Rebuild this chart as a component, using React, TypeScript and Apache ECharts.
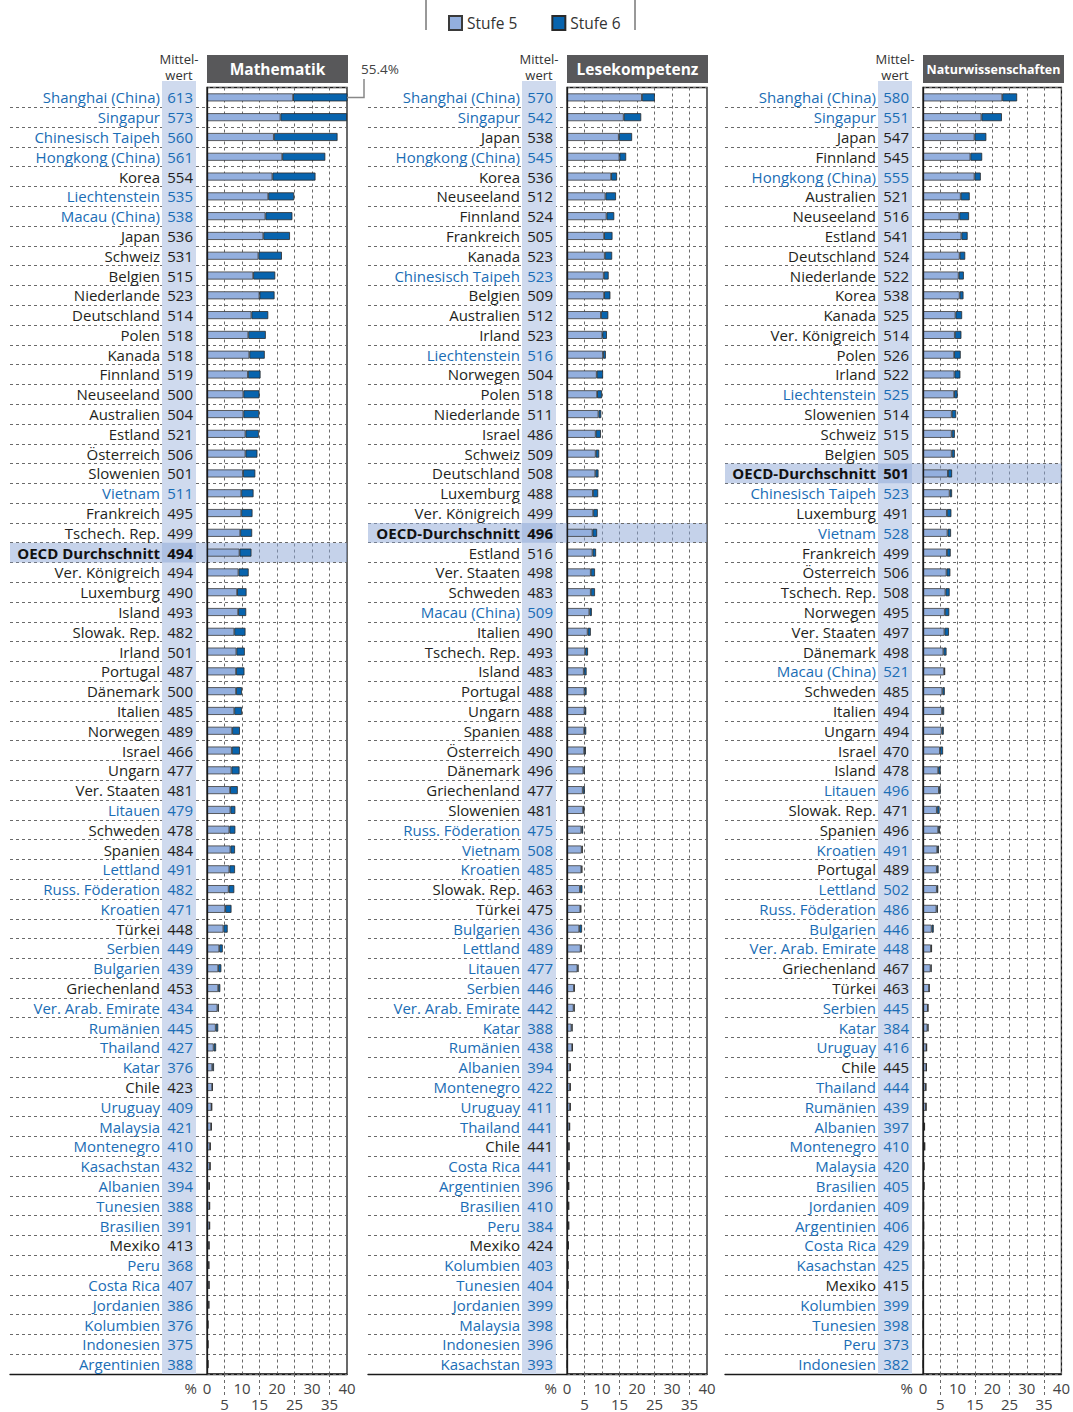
import React, { useEffect, useRef } from 'react';
import * as echarts from 'echarts';

// ---------------- DATA ----------------
const MATH_NAMES = ['Shanghai (China)', 'Singapur', 'Chinesisch Taipeh', 'Hongkong (China)', 'Korea', 'Liechtenstein', 'Macau (China)', 'Japan', 'Schweiz', 'Belgien', 'Niederlande', 'Deutschland', 'Polen', 'Kanada', 'Finnland', 'Neuseeland', 'Australien', 'Estland', 'Österreich', 'Slowenien', 'Vietnam', 'Frankreich', 'Tschech. Rep.', 'OECD Durchschnitt', 'Ver. Königreich', 'Luxemburg', 'Island', 'Slowak. Rep.', 'Irland', 'Portugal', 'Dänemark', 'Italien', 'Norwegen', 'Israel', 'Ungarn', 'Ver. Staaten', 'Litauen', 'Schweden', 'Spanien', 'Lettland', 'Russ. Föderation', 'Kroatien', 'Türkei', 'Serbien', 'Bulgarien', 'Griechenland', 'Ver. Arab. Emirate', 'Rumänien', 'Thailand', 'Katar', 'Chile', 'Uruguay', 'Malaysia', 'Montenegro', 'Kasachstan', 'Albanien', 'Tunesien', 'Brasilien', 'Mexiko', 'Peru', 'Costa Rica', 'Jordanien', 'Kolumbien', 'Indonesien', 'Argentinien'];
const MATH_MEAN = [613, 573, 560, 561, 554, 535, 538, 536, 531, 515, 523, 514, 518, 518, 519, 500, 504, 521, 506, 501, 511, 495, 499, 494, 494, 490, 493, 482, 501, 487, 500, 485, 489, 466, 477, 481, 479, 478, 484, 491, 482, 471, 448, 449, 439, 453, 434, 445, 427, 376, 423, 409, 421, 410, 432, 394, 388, 391, 413, 368, 407, 386, 376, 375, 388];
const MATH_S5 = [24.6, 21.0, 19.1, 21.5, 18.7, 17.5, 16.7, 16.1, 14.7, 13.2, 15.0, 12.7, 11.8, 12.1, 11.7, 10.4, 10.4, 11.0, 11.0, 10.3, 9.8, 9.8, 9.5, 9.3, 9.0, 8.6, 8.9, 7.8, 8.4, 8.3, 8.3, 7.8, 7.2, 7.1, 7.0, 6.6, 6.7, 6.4, 6.7, 6.4, 6.2, 5.2, 4.7, 3.5, 3.2, 3.2, 3.0, 2.5, 1.9, 1.5, 1.5, 1.3, 1.2, 0.9, 0.9, 0.6, 0.7, 0.7, 0.6, 0.5, 0.6, 0.5, 0.3, 0.3, 0.3];
const MATH_S6 = [30.8, 19.0, 18.2, 12.3, 12.3, 7.4, 7.7, 7.6, 6.7, 6.3, 4.3, 4.8, 5.0, 4.4, 3.6, 4.6, 4.5, 3.8, 3.4, 3.5, 3.5, 3.2, 3.4, 3.4, 2.9, 2.7, 2.3, 3.2, 2.4, 2.4, 1.7, 2.2, 2.2, 2.3, 2.3, 2.2, 1.4, 1.7, 1.3, 1.6, 1.6, 1.8, 1.2, 1.0, 0.9, 0.6, 0.4, 0.7, 0.7, 0.5, 0.1, 0.1, 0.1, 0.1, 0.0, 0.2, 0.1, 0.1, 0.0, 0.1, 0.0, 0.1, 0.0, 0.0, 0.0];

const READ_NAMES = ['Shanghai (China)', 'Singapur', 'Japan', 'Hongkong (China)', 'Korea', 'Neuseeland', 'Finnland', 'Frankreich', 'Kanada', 'Chinesisch Taipeh', 'Belgien', 'Australien', 'Irland', 'Liechtenstein', 'Norwegen', 'Polen', 'Niederlande', 'Israel', 'Schweiz', 'Deutschland', 'Luxemburg', 'Ver. Königreich', 'OECD-Durchschnitt', 'Estland', 'Ver. Staaten', 'Schweden', 'Macau (China)', 'Italien', 'Tschech. Rep.', 'Island', 'Portugal', 'Ungarn', 'Spanien', 'Österreich', 'Dänemark', 'Griechenland', 'Slowenien', 'Russ. Föderation', 'Vietnam', 'Kroatien', 'Slowak. Rep.', 'Türkei', 'Bulgarien', 'Lettland', 'Litauen', 'Serbien', 'Ver. Arab. Emirate', 'Katar', 'Rumänien', 'Albanien', 'Montenegro', 'Uruguay', 'Thailand', 'Chile', 'Costa Rica', 'Argentinien', 'Brasilien', 'Peru', 'Mexiko', 'Kolumbien', 'Tunesien', 'Jordanien', 'Malaysia', 'Indonesien', 'Kasachstan'];
const READ_MEAN = [570, 542, 538, 545, 536, 512, 524, 505, 523, 523, 509, 512, 523, 516, 504, 518, 511, 486, 509, 508, 488, 499, 496, 516, 498, 483, 509, 490, 493, 483, 488, 488, 488, 490, 496, 477, 481, 475, 508, 485, 463, 475, 436, 489, 477, 446, 442, 388, 438, 394, 422, 411, 441, 441, 441, 396, 410, 384, 424, 403, 404, 399, 398, 396, 393];
const READ_S5 = [21.4, 16.2, 14.8, 15.0, 12.6, 11.0, 11.3, 10.6, 10.8, 10.5, 10.6, 9.7, 10.1, 10.3, 8.5, 8.6, 9.0, 8.2, 8.2, 8.1, 7.4, 7.5, 7.3, 7.3, 6.8, 6.8, 6.4, 5.9, 5.2, 4.8, 5.0, 5.0, 4.9, 4.9, 4.7, 4.5, 4.6, 4.1, 4.2, 4.1, 3.7, 3.8, 3.5, 3.9, 3.0, 2.0, 1.9, 1.3, 1.5, 0.9, 0.9, 0.9, 0.7, 0.6, 0.6, 0.5, 0.5, 0.5, 0.4, 0.3, 0.3, 0.1, 0.1, 0.1, 0.1];
const READ_S6 = [3.7, 5.0, 3.8, 1.9, 1.7, 3.0, 2.2, 2.4, 2.1, 1.4, 1.8, 2.1, 1.3, 0.8, 1.8, 1.4, 0.8, 1.5, 1.0, 0.9, 1.5, 1.3, 1.3, 1.0, 1.2, 1.2, 0.7, 0.9, 0.8, 0.8, 0.6, 0.5, 0.6, 0.5, 0.4, 0.6, 0.4, 0.5, 0.3, 0.3, 0.7, 0.3, 0.8, 0.3, 0.3, 0.2, 0.3, 0.3, 0.1, 0.1, 0.1, 0.1, 0.1, 0.0, 0.0, 0.0, 0.0, 0.0, 0.0, 0.0, 0.0, 0.0, 0.0, 0.0, 0.0];

const SCI_NAMES = ['Shanghai (China)', 'Singapur', 'Japan', 'Finnland', 'Hongkong (China)', 'Australien', 'Neuseeland', 'Estland', 'Deutschland', 'Niederlande', 'Korea', 'Kanada', 'Ver. Königreich', 'Polen', 'Irland', 'Liechtenstein', 'Slowenien', 'Schweiz', 'Belgien', 'OECD-Durchschnitt', 'Chinesisch Taipeh', 'Luxemburg', 'Vietnam', 'Frankreich', 'Österreich', 'Tschech. Rep.', 'Norwegen', 'Ver. Staaten', 'Dänemark', 'Macau (China)', 'Schweden', 'Italien', 'Ungarn', 'Israel', 'Island', 'Litauen', 'Slowak. Rep.', 'Spanien', 'Kroatien', 'Portugal', 'Lettland', 'Russ. Föderation', 'Bulgarien', 'Ver. Arab. Emirate', 'Griechenland', 'Türkei', 'Serbien', 'Katar', 'Uruguay', 'Chile', 'Thailand', 'Rumänien', 'Albanien', 'Montenegro', 'Malaysia', 'Brasilien', 'Jordanien', 'Argentinien', 'Costa Rica', 'Kasachstan', 'Mexiko', 'Kolumbien', 'Tunesien', 'Peru', 'Indonesien'];
const SCI_MEAN = [580, 551, 547, 545, 555, 521, 516, 541, 524, 522, 538, 525, 514, 526, 522, 525, 514, 515, 505, 501, 523, 491, 528, 499, 506, 508, 495, 497, 498, 521, 485, 494, 494, 470, 478, 496, 471, 496, 491, 489, 502, 486, 446, 448, 467, 463, 445, 384, 416, 445, 444, 439, 397, 410, 420, 405, 409, 406, 429, 425, 415, 399, 398, 373, 382];
const SCI_S5 = [22.9, 16.9, 14.9, 13.7, 14.9, 10.9, 10.5, 11.1, 10.6, 10.3, 10.6, 9.4, 9.2, 9.0, 9.1, 9.0, 8.3, 8.3, 8.3, 7.2, 7.7, 6.9, 7.1, 6.9, 6.8, 6.5, 6.3, 6.2, 5.9, 6.1, 5.6, 5.5, 5.4, 4.9, 4.4, 4.6, 4.0, 4.4, 4.1, 4.0, 4.0, 3.9, 2.5, 2.3, 2.2, 1.8, 1.4, 1.3, 1.0, 1.0, 0.8, 0.9, 0.4, 0.5, 0.3, 0.3, 0.2, 0.2, 0.2, 0.2, 0.1, 0.1, 0.1, 0.1, 0.1];
const SCI_S6 = [4.3, 5.9, 3.4, 3.4, 1.8, 2.6, 2.8, 1.8, 1.6, 1.5, 1.1, 1.9, 1.9, 1.9, 1.7, 1.0, 1.3, 0.9, 0.9, 1.2, 0.7, 1.3, 1.0, 1.1, 1.1, 1.2, 1.3, 1.3, 0.9, 0.3, 0.7, 0.6, 0.6, 0.9, 0.7, 0.5, 0.8, 0.5, 0.5, 0.5, 0.4, 0.4, 0.6, 0.3, 0.3, 0.0, 0.1, 0.3, 0.1, 0.0, 0.1, 0.0, 0.1, 0.0, 0.0, 0.0, 0.0, 0.0, 0.0, 0.0, 0.0, 0.0, 0.0, 0.0, 0.0];

const PARTNERS = ['Shanghai (China)', 'Singapur', 'Chinesisch Taipeh', 'Hongkong (China)', 'Liechtenstein', 'Macau (China)', 'Vietnam', 'Litauen', 'Lettland', 'Russ. Föderation', 'Kroatien', 'Serbien', 'Bulgarien', 'Ver. Arab. Emirate', 'Rumänien', 'Thailand', 'Katar', 'Uruguay', 'Malaysia', 'Montenegro', 'Kasachstan', 'Albanien', 'Tunesien', 'Brasilien', 'Peru', 'Costa Rica', 'Jordanien', 'Kolumbien', 'Indonesien', 'Argentinien'];

const TITLES = ['Mathematik', 'Lesekompetenz', 'Naturwissenschaften'];
const LEGEND = ['Stufe 5', 'Stufe 6'];
const X_MIN = 0;
const X_MAX = 40;
const MEAN_HEADER = ['Mittel-', 'wert'];

// ---------------- LAYOUT / STYLE ----------------
const FONT = '"Open Sans", sans-serif';
const GRID_TOP = 87.5;
const GRID_H = 1286.5;
const PLOT_W = 140;
const PANEL_OFF = [0, 360, 716];
const LABEL_LEFT = [10, 368, 725];
const TITLE_SIZE = [15.5, 15.5, 12.5];
const C_BLUE = '#1a6db5';
const C_BLACK = '#231f20';
const C_S5 = '#93afde';
const C_S6 = '#0864ae';
const C_STRIP = '#cfdaee';
const C_HL = 'rgba(140,166,214,0.5)';
const C_DASH = '#6a6a6a';
const C_FRAME = '#1a1a1a';

const PANELS = [
  { names: MATH_NAMES, mean: MATH_MEAN, s5: MATH_S5, s6: MATH_S6 },
  { names: READ_NAMES, mean: READ_MEAN, s5: READ_S5, s6: READ_S6 },
  { names: SCI_NAMES, mean: SCI_MEAN, s5: SCI_S5, s6: SCI_S6 },
];

function styleKey(name: string) {
  if (name.startsWith('OECD')) return 'o';
  return PARTNERS.includes(name) ? 'p' : 'n';
}

const RICH = {
  n: { color: C_BLACK, fontSize: 15, fontFamily: FONT },
  p: { color: C_BLUE, fontSize: 15, fontFamily: FONT },
  o: { color: '#111', fontSize: 15, fontWeight: 'bold', fontFamily: FONT },
};

function buildOption() {
  const grid: any[] = [];
  const xAxis: any[] = [];
  const yAxis: any[] = [];
  const series: any[] = [];
  const dashed = { color: C_DASH, type: [3, 3], width: 1 };

  PANELS.forEach((pn, p) => {
    const plotLeft = 207 + PANEL_OFF[p];
    grid.push({ left: plotLeft, top: GRID_TOP, width: PLOT_W, height: GRID_H, show: true, borderColor: C_FRAME, borderWidth: 1.3, backgroundColor: 'transparent' });
    grid.push({ left: LABEL_LEFT[p], top: GRID_TOP, width: plotLeft - LABEL_LEFT[p], height: GRID_H });
    const gP = 2 * p, gL = 2 * p + 1;

    xAxis.push({
      gridIndex: gP, type: 'value', min: X_MIN, max: X_MAX, interval: 10, position: 'bottom',
      axisLine: { show: true, lineStyle: { color: C_FRAME, width: 1.3 } },
      axisTick: { show: false },
      minorTick: { show: true, splitNumber: 2, length: 21, lineStyle: dashed },
      splitLine: { show: true, lineStyle: dashed },
      minorSplitLine: { show: true, lineStyle: dashed },
      axisLabel: { margin: 6, fontSize: 15, lineHeight: 16, color: '#444', fontFamily: FONT },
      name: '%', nameLocation: 'start', nameGap: 9,
      nameTextStyle: { fontSize: 15, lineHeight: 16, color: '#444', fontFamily: FONT, verticalAlign: 'top', padding: [6, 0, 0, 0] },
    });
    xAxis.push({
      gridIndex: gP, type: 'value', min: X_MIN, max: X_MAX, interval: 5, position: 'bottom',
      axisLine: { show: false }, axisTick: { show: false }, splitLine: { show: false },
      axisLabel: { margin: 22, fontSize: 15, lineHeight: 15, color: '#444', fontFamily: FONT, formatter: (v: number) => (v % 10 === 5 ? String(v) : '') },
    });
    xAxis.push({
      gridIndex: gL, type: 'value', min: 0, max: 1, position: 'bottom',
      axisLine: { show: true, lineStyle: { color: C_FRAME, width: 1.3 } },
      axisTick: { show: false }, axisLabel: { show: false }, splitLine: { show: false },
    });

    yAxis.push({
      gridIndex: gP, type: 'category', data: pn.names, inverse: true, z: 5, position: 'left', offset: 0,
      axisLine: { show: true, lineStyle: { color: C_FRAME, width: 1.3 } },
      axisTick: { show: false },
      splitLine: { show: true, lineStyle: dashed },
      axisLabel: { interval: 0, margin: 47, formatter: (v: string) => `{${styleKey(v)}|${v}}`, rich: RICH },
    });
    yAxis.push({
      gridIndex: gP, type: 'category', data: pn.names, inverse: true, z: 5, position: 'left', offset: 0,
      axisLine: { show: false }, axisTick: { show: false }, splitLine: { show: false },
      axisLabel: { interval: 0, margin: 14, formatter: (v: string, i: number) => `{${styleKey(v)}|${pn.mean[i]}}`, rich: RICH },
    });
    yAxis.push({
      gridIndex: gL, type: 'category', data: pn.names, inverse: true, z: 0, position: 'left',
      axisLine: { show: false }, axisTick: { show: false }, axisLabel: { show: false },
      splitLine: { show: true, interval: (i: number) => i !== 0, lineStyle: dashed },
    });

    const oecdIdx = pn.names.findIndex((n) => n.startsWith('OECD'));
    const hl = (xi: number, yi: number) => ({
      type: 'custom', xAxisIndex: xi, yAxisIndex: yi, z: 2, silent: true,
      data: [[0, oecdIdx]], encode: { x: 0, y: 1 },
      renderItem: (params: any, api: any) => {
        const c = api.coord([0, api.value(1)]);
        const s = api.size([0, 1]);
        const cs = params.coordSys;
        return { type: 'rect', shape: { x: cs.x, y: c[1] - s[1] / 2, width: cs.width, height: s[1] }, style: { fill: C_HL } };
      },
    });
    series.push(hl(3 * p, 3 * p));
    series.push(hl(3 * p + 2, 3 * p + 2));

    series.push({
      name: LEGEND[0], type: 'bar', xAxisIndex: 3 * p, yAxisIndex: 3 * p, stack: 'st' + p, z: 3,
      barWidth: 8, data: pn.s5,
      itemStyle: { color: C_S5, borderColor: '#3a3a3a', borderWidth: 0.8 },
    });
    series.push({
      name: LEGEND[1], type: 'bar', xAxisIndex: 3 * p, yAxisIndex: 3 * p, stack: 'st' + p, z: 3,
      barWidth: 8, data: pn.s6,
      itemStyle: { color: C_S6, borderColor: '#2a2a2a', borderWidth: 0.8 },
    });
  });

  return {
    animation: false,
    textStyle: { fontFamily: FONT },
    legend: {
      data: LEGEND, left: 448, top: 15, itemWidth: 13, itemHeight: 14, itemGap: 34, padding: 0, icon: 'rect',
      textStyle: { fontSize: 15.5, color: '#333', fontFamily: FONT },
    },
    grid, xAxis, yAxis, series,
  };
}

function buildGraphics(anchor: number[], total: number) {
  const els: any[] = [];
  PANELS.forEach((_, p) => {
    const off = PANEL_OFF[p];
    els.push({ id: 'strip' + p, type: 'rect', z: 1, silent: true, shape: { x: 162 + off, y: 81, width: 34, height: 1374 - 81 }, style: { fill: C_STRIP } });
    els.push({ id: 'tbox' + p, type: 'rect', z: 1, shape: { x: 207 + off, y: 55, width: 141, height: 28 }, style: { fill: '#58585a' } });
    els.push({
      id: 'ttext' + p, type: 'text', z: 2, x: 277.5 + off, y: 69,
      style: { text: TITLES[p], fill: '#fff', fontSize: TITLE_SIZE[p], fontWeight: 'bold', fontFamily: FONT, align: 'center', verticalAlign: 'middle' },
    });
    els.push({ id: 'mh1' + p, type: 'text', z: 2, x: 179 + off, y: 59, style: { text: MEAN_HEADER[0], fill: '#333', fontSize: 13, lineHeight: 13, fontFamily: FONT, align: 'center', verticalAlign: 'middle' } });
    els.push({ id: 'mh2' + p, type: 'text', z: 2, x: 179 + off, y: 75, style: { text: MEAN_HEADER[1], fill: '#333', fontSize: 13, lineHeight: 13, fontFamily: FONT, align: 'center', verticalAlign: 'middle' } });
  });
  els.push({ id: 'lg1', type: 'line', shape: { x1: 426, y1: 0, x2: 426, y2: 30 }, style: { stroke: '#333', lineWidth: 1 } });
  els.push({ id: 'lg2', type: 'line', shape: { x1: 635, y1: 0, x2: 635, y2: 30 }, style: { stroke: '#333', lineWidth: 1 } });
  // leader for the clipped Shanghai bar
  const [ax, ay] = anchor;
  els.push({ id: 'lead', type: 'polyline', z: 4, shape: { points: [[ax, ay], [ax + 17, ay], [ax + 17, 79]] }, style: { stroke: '#888', lineWidth: 1.5, fill: null } });
  els.push({ id: 'leadt', type: 'text', z: 4, x: ax + 14, y: 69, style: { text: total.toFixed(1) + '%', fill: '#444', fontSize: 13.5, fontFamily: FONT, align: 'left', verticalAlign: 'middle' } });
  return els;
}

export default function App() {
  const ref = useRef<HTMLDivElement>(null);
  useEffect(() => {
    const chart = echarts.init(ref.current!, null, { renderer: 'svg' });
    chart.setOption(buildOption());
    const anchor = chart.convertToPixel({ xAxisIndex: 0, yAxisIndex: 0 }, [X_MAX, 0]) as number[];
    chart.setOption({ graphic: { elements: buildGraphics(anchor, MATH_S5[0] + MATH_S6[0]) } });
    return () => chart.dispose();
  }, []);
  return <div ref={ref} style={{ position: 'absolute', left: 0, top: 0, width: 1073, height: 1412 }} />;
}
